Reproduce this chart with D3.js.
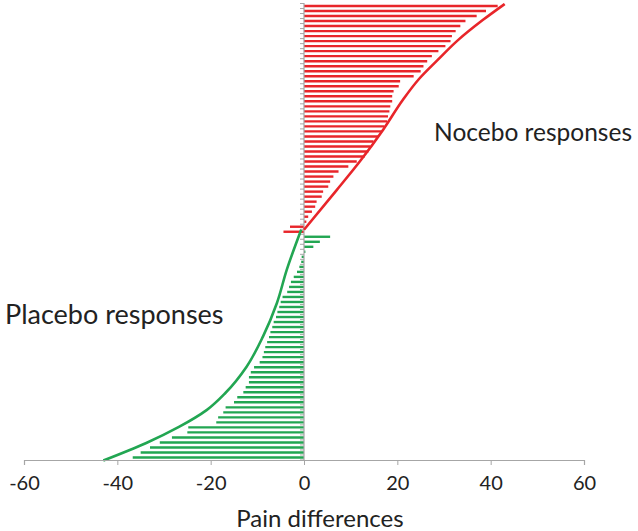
<!DOCTYPE html>
<html>
<head>
<meta charset="utf-8">
<script src="https://cdn.jsdelivr.net/npm/d3@7/dist/d3.min.js"></script>
<style>
html,body{margin:0;padding:0;background:#fff;}
svg{display:block;}
</style>
</head>
<body>
<svg id="chart" width="638" height="531"></svg>
<script>
// Individual pain differences, top to bottom (nocebo first, then placebo)
const nocebo = [41.5,39,37,34.6,33.5,32.5,31.7,31.4,30.3,28.8,27.4,26.4,25.6,25,23.5,20.6,20.3,19.2,18.9,18.9,18.5,18.3,18,17.8,17.2,16.7,16,14.9,14.2,13.8,13,11.3,9.5,7.4,6.3,5.6,5.2,4.1,3.8,2.7,2.4,1.7,0.9,0.5,-3,-4.4];
const placebo = [5.6,3.4,2,0.3,-0.5,-0.6,-1,-1.5,-2.2,-2.8,-3.2,-3.6,-4.6,-5,-5.3,-5.7,-6,-6.5,-6.8,-7.2,-7.5,-7.9,-8.3,-8.6,-8.9,-9.5,-10.7,-11.4,-11.8,-11.8,-12.5,-13,-14.3,-15,-16.8,-17.3,-18.4,-18.8,-24.8,-25,-28.3,-30.9,-33,-35,-36.7];
// Fitted curves: [row position, pain difference]
const noceboCurve = [[-0.4,43],[2.8,38.3],[6.8,33],[10.8,28.6],[14.7,24.5],[18.7,21.2],[24.6,17],[30.7,12.2],[36.7,7],[44.6,0]];
const placeboCurve = [[44.6,-0.6],[52.6,-3.7],[59.2,-5.8],[65.9,-8.8],[71.9,-12.3],[77.1,-16.8],[80.5,-20.8],[83.9,-26.8],[87.1,-33.8],[90.6,-43]];
const xTicks = [-60,-40,-20,0,20,40,60];
const labels = {x: "Pain differences", nocebo: "Nocebo responses", placebo: "Placebo responses"};

const red = "#e8252a", green = "#22a652", axisGray = "#a6a6a6";
const N = nocebo.length + placebo.length;
const rows = nocebo.map(v => ({v, g: "n"})).concat(placebo.map(v => ({v, g: "p"})));

const svg = d3.select("#chart");
const x = d3.scaleLinear().domain([-60, 60]).range([24, 584]);
const y = d3.scaleLinear().domain([-0.5, N - 0.5]).range([3.5, 460]);
const font = "Lato, 'Open Sans', sans-serif";

// bars
svg.append("g").selectAll("line").data(rows).join("line")
  .attr("x1", x(0)).attr("x2", d => x(d.v))
  .attr("y1", (d, i) => y(i)).attr("y2", (d, i) => y(i))
  .attr("stroke", d => d.g === "n" ? red : green)
  .attr("stroke-width", 2.4);

// y axis (vertical at 0) with category ticks
const ya = svg.append("g");
ya.append("line").attr("x1", x(0)).attr("x2", x(0)).attr("y1", 3).attr("y2", 460)
  .attr("stroke", axisGray).attr("stroke-width", 1.2);
ya.selectAll("line.t").data(d3.range(N + 1)).join("line").attr("class", "t")
  .attr("x1", x(0) - 4).attr("x2", x(0))
  .attr("y1", i => y(i - 0.5)).attr("y2", i => y(i - 0.5))
  .attr("stroke", axisGray).attr("stroke-width", 1);

// curves
const line = d3.line().x(d => x(d[1])).y(d => y(d[0])).curve(d3.curveMonotoneY);
svg.append("path").attr("d", line(noceboCurve)).attr("fill", "none").attr("stroke", red).attr("stroke-width", 2.6);
svg.append("path").attr("d", line(placeboCurve)).attr("fill", "none").attr("stroke", green).attr("stroke-width", 2.6);

// x axis
const xa = svg.append("g").attr("transform", "translate(0,460)")
  .call(d3.axisBottom(x).tickValues(xTicks).tickSize(5).tickPadding(11).tickFormat(d => String(d)));
xa.select(".domain").attr("stroke", axisGray).attr("stroke-width", 1.2);
xa.selectAll(".tick line").attr("stroke", axisGray);
xa.selectAll(".tick text").attr("font-family", font).attr("font-size", 20).attr("fill", "#222");

svg.append("text").attr("x", 320).attr("y", 527).attr("text-anchor", "middle")
  .attr("font-family", font).attr("font-size", 24).attr("fill", "#222").text(labels.x);
svg.append("text").attr("x", 632).attr("y", 141).attr("text-anchor", "end")
  .attr("font-family", font).attr("font-size", 24.5).attr("fill", "#222").text(labels.nocebo);
svg.append("text").attr("x", 5).attr("y", 324)
  .attr("font-family", font).attr("font-size", 27).attr("fill", "#222").text(labels.placebo);
</script>
</body>
</html>
